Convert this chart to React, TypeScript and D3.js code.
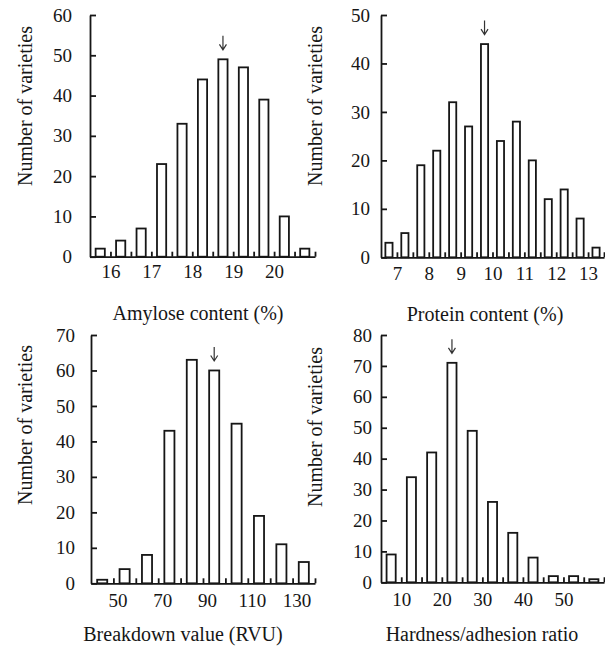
import { useEffect, useRef } from 'react';
import * as d3 from 'd3';

// Bin centres and counts
const amyloseBins = [15.75, 16.25, 16.75, 17.25, 17.75, 18.25, 18.75, 19.25, 19.75, 20.25, 20.75];
const amyloseCounts = [2, 4, 7, 23, 33, 44, 49, 47, 39, 10, 2];
const amyloseLabels = [16, 17, 18, 19, 20];

const proteinBins = [6.75, 7.25, 7.75, 8.25, 8.75, 9.25, 9.75, 10.25, 10.75, 11.25, 11.75, 12.25, 12.75, 13.25];
const proteinCounts = [3, 5, 19, 22, 32, 27, 44, 24, 28, 20, 12, 14, 8, 2];
const proteinLabels = [7, 8, 9, 10, 11, 12, 13];

const breakdownBins = [45, 55, 65, 75, 85, 95, 105, 115, 125, 135];
const breakdownCounts = [1, 4, 8, 43, 63, 60, 45, 19, 11, 6];
const breakdownLabels = [50, 70, 90, 110, 130];

const ratioBins = [7.5, 12.5, 17.5, 22.5, 27.5, 32.5, 37.5, 42.5, 47.5, 52.5, 57.5];
const ratioCounts = [9, 34, 42, 71, 49, 26, 16, 8, 2, 2, 1];
const ratioLabels = [10, 20, 30, 40, 50];

const yTitle = 'Number of varieties';

const panels = [
  {
    bins: amyloseBins, counts: amyloseCounts, labels: amyloseLabels,
    binWidth: 0.5, xDomain: [15.5, 21], yMax: 60, arrowAt: 18.75,
    xTitle: 'Amylose content (%)',
    left: 90, right: 315, top: 15, bottom: 256.7,
    yPad: 18, xPad: 7.5, labelDx: 0, xTitleX: 198, xTitleY: 320, yTitleX: 32, yTitleY: 106,
  },
  {
    bins: proteinBins, counts: proteinCounts, labels: proteinLabels,
    binWidth: 0.5, xDomain: [6.5, 13.5], yMax: 50, arrowAt: 9.75,
    xTitle: 'Protein content (%)',
    left: 381, right: 604, top: 15, bottom: 257.3,
    yPad: 11, xPad: 9, labelDx: 0, xTitleX: 485, xTitleY: 321, yTitleX: 322, yTitleY: 106,
  },
  {
    bins: breakdownBins, counts: breakdownCounts, labels: breakdownLabels,
    binWidth: 10, xDomain: [40, 140], yMax: 70, arrowAt: 95,
    xTitle: 'Breakdown value (RVU)',
    left: 91, right: 315, top: 335, bottom: 583.3,
    yPad: 16, xPad: 10, labelDx: 4, xTitleX: 183, xTitleY: 641, yTitleX: 32, yTitleY: 425,
  },
  {
    bins: ratioBins, counts: ratioCounts, labels: ratioLabels,
    binWidth: 5, xDomain: [5, 60], yMax: 80, arrowAt: 22.5,
    xTitle: 'Hardness/adhesion ratio',
    left: 381, right: 604, top: 335, bottom: 582.3,
    yPad: 9, xPad: 10, labelDx: 0, xTitleX: 482, xTitleY: 641, yTitleX: 322, yTitleY: 427,
  },
];

const font = '"Liberation Serif", "Times New Roman", serif';
const ink = '#161616';

export default function App() {
  const svgRef = useRef<SVGSVGElement>(null);

  useEffect(() => {
    const svg = d3.select(svgRef.current);
    svg.selectAll('*').remove();

    panels.forEach(p => {
      const x = d3.scaleLinear().domain(p.xDomain).range([p.left, p.right]);
      const y = d3.scaleLinear().domain([0, p.yMax]).range([p.bottom, p.top]);
      const g = svg.append('g');
      const binPx = x(p.xDomain[0] + p.binWidth) - x(p.xDomain[0]);
      const barW = binPx * 0.45;

      // bars
      g.selectAll('rect')
        .data(p.bins.map((b, i) => ({ b, v: p.counts[i] })))
        .join('rect')
        .attr('x', d => x(d.b) - barW / 2)
        .attr('width', barW)
        .attr('y', d => y(d.v))
        .attr('height', d => y(0) - y(d.v))
        .attr('fill', 'white')
        .attr('stroke', ink)
        .attr('stroke-width', 1.8);

      // y axis, ticks pointing inward
      const yAxis = g.append('g')
        .attr('transform', `translate(${p.left},0)`)
        .call(d3.axisLeft(y).tickValues(d3.range(0, p.yMax + 1, 10)).tickSize(-6).tickSizeOuter(0).tickPadding(p.yPad));
      yAxis.selectAll('path, line').attr('stroke', ink).attr('stroke-width', 1.8);
      yAxis.selectAll('text').attr('font-family', font).attr('font-size', 19).attr('fill', ink);

      // x axis, a tick at every bin edge
      const edges = d3.range(p.xDomain[0] + p.binWidth, p.xDomain[1] + p.binWidth / 2, p.binWidth);
      const xAxis = g.append('g')
        .attr('transform', `translate(0,${p.bottom})`)
        .call(d3.axisBottom(x).tickValues(edges).tickSize(-5).tickSizeOuter(0).tickPadding(p.xPad)
          .tickFormat(d => (p.labels.some(l => Math.abs(l - +d) < 1e-6) ? String(d) : '')));
      xAxis.selectAll('path, line').attr('stroke', ink).attr('stroke-width', 1.8);
      xAxis.selectAll('text')
        .attr('dx', p.labelDx)
        .attr('font-family', font)
        .attr('font-size', 19)
        .attr('fill', ink);

      // arrow above the marked bin
      const idx = p.bins.indexOf(p.arrowAt);
      const ax = x(p.arrowAt);
      const tip = y(p.counts[idx]) - 9.5;
      g.append('path')
        .attr('d', `M${ax},${tip - 14}L${ax},${tip}M${ax - 3.5},${tip - 5.5}L${ax},${tip}L${ax + 3.5},${tip - 5.5}`)
        .attr('fill', 'none')
        .attr('stroke', '#333')
        .attr('stroke-width', 1.2);

      // titles
      g.append('text')
        .attr('x', p.xTitleX)
        .attr('y', p.xTitleY)
        .attr('text-anchor', 'middle')
        .attr('font-family', font)
        .attr('font-size', 20)
        .attr('fill', ink)
        .text(p.xTitle);

      g.append('text')
        .attr('transform', `translate(${p.yTitleX},${p.yTitleY}) rotate(-90)`)
        .attr('text-anchor', 'middle')
        .attr('font-family', font)
        .attr('font-size', 20)
        .attr('fill', ink)
        .text(yTitle);
    });
  }, []);

  return (
    <svg
      ref={svgRef}
      width={605}
      height={647}
      style={{ position: 'absolute', left: 0, top: 0, background: 'white' }}
    />
  );
}
